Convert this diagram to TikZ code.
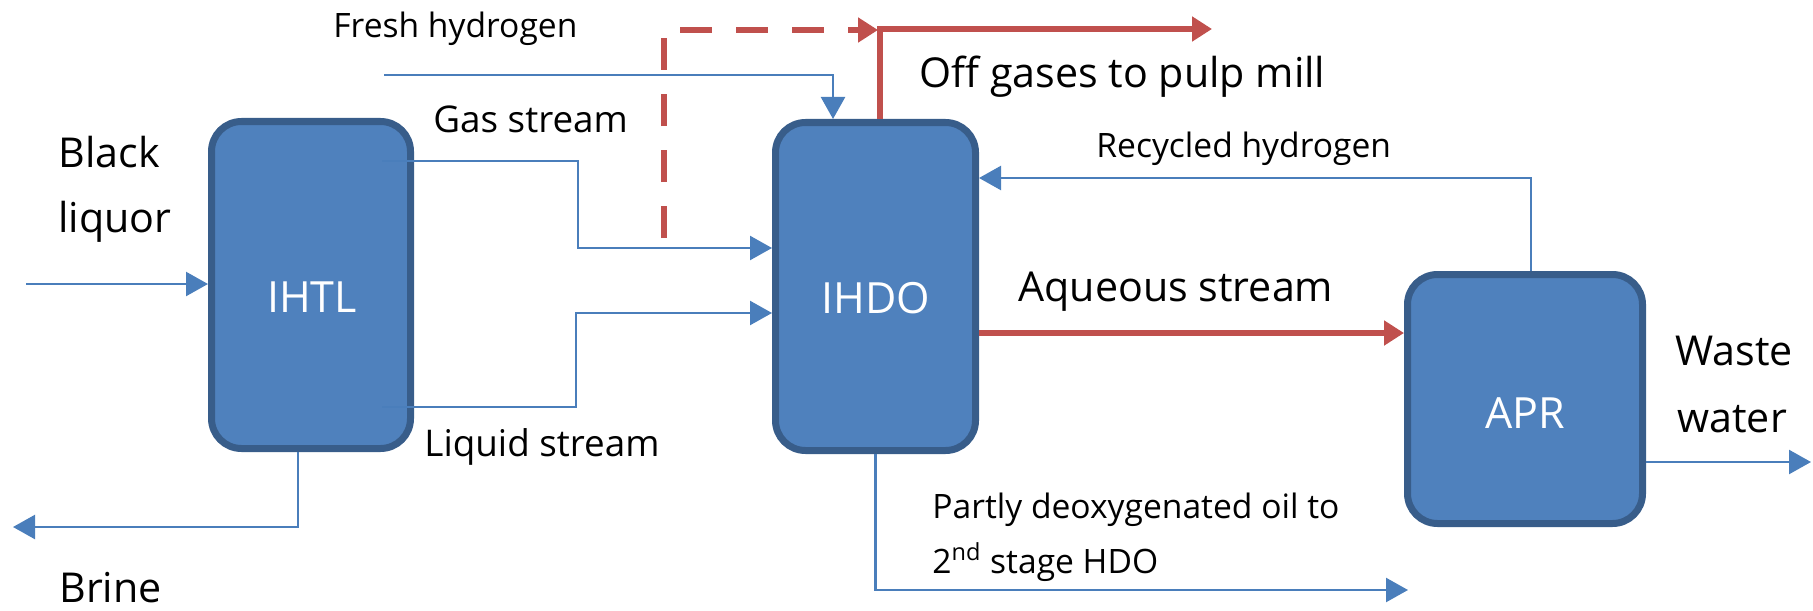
\documentclass[tikz,border=0pt]{standalone}
\usepackage{fontspec}
\setmainfont{Open Sans}
\usetikzlibrary{arrows.meta,calc}

\definecolor{boxfill}{HTML}{4F81BD}
\definecolor{boxline}{HTML}{385D8A}
\definecolor{flowblue}{HTML}{4A7EBB}
\definecolor{flowred}{HTML}{C0504D}

\tikzset{
  unit/.style={draw=boxline, fill=boxfill, line width=3.5pt, rounded corners=15pt, inner sep=0pt},
  unitlabel/.style={text=white, inner sep=0pt, font=\fontsize{21.5}{24}\selectfont},
  flow/.style={draw=flowblue, line width=1.2pt, -{Triangle[length=11pt,width=12pt]}},
  hotflow/.style={draw=flowred, line width=3.3pt, -{Triangle[length=10pt,width=12pt]}},
  hotdash/.style={hotflow, dash pattern=on 16pt off 12pt},
  lbl/.style={anchor=base west, inner sep=0pt, text=black},
  small/.style={lbl, font=\fontsize{16.8}{20}\selectfont},
  mid/.style={lbl, font=\fontsize{18.4}{22}\selectfont},
  big/.style={lbl, font=\fontsize{20.6}{24}\selectfont}
}

\begin{document}
\begin{tikzpicture}[x=0.5pt, y=-0.5pt]
  \useasboundingbox (0,0) rectangle (1813,610);

  % process units
  \node[unit, minimum width=99.5pt, minimum height=163.5pt] (ihtl) at (311,285) {};
  \node[unit, minimum width=100pt, minimum height=164pt] (ihdo) at (875.5,286.5) {};
  \node[unit, minimum width=117.5pt, minimum height=124.5pt] (apr) at (1525,399) {};
  \node[unitlabel] (ihtl-t) at (312,297) {IHTL};
  \node[unitlabel] (ihdo-t) at (876,298) {IHDO};
  \node[unitlabel] (apr-t) at (1525,413) {APR};

  % free ends of the streams
  \coordinate (feed) at (26,284);
  \coordinate (brineout) at (13,527);
  \coordinate (h2in) at (384,75);
  \coordinate (gasout) at (382,161);
  \coordinate (liqout) at (382,407);
  \coordinate (bypass) at (664,238);
  \coordinate (junction) at (878,30);
  \coordinate (offgas) at (1212,29);
  \coordinate (oilout) at (1408,590);
  \coordinate (wasteout) at (1811,462);

  % IHTL streams
  \draw[flow] (feed) -- (ihtl.west |- feed);
  \draw[flow] (298,0 |- ihtl.south) -- (298,527) -- (brineout);
  \draw[flow] (gasout) -- (578,161) |- (ihdo.west |- 0,248);
  \draw[flow] (liqout) -- (576,407) |- (ihdo.west |- 0,313);

  % hydrogen and gases around IHDO
  \draw[flow] (h2in) -| (833,0 |- ihdo.north);
  \draw[hotdash] (bypass) |- (junction);
  \draw[hotflow] (880,0 |- ihdo.north) -- (880,29) -- (offgas);
  \draw[flow] (1531,0 |- apr.north) |- (ihdo.east |- 0,178);
  \draw[hotflow] (ihdo.east |- 0,333) -- (apr.west |- 0,333);
  \draw[flow] (ihdo.south) |- (oilout);
  \draw[flow] (apr.east |- 0,462) -- (wasteout);

  % stream labels
  \node[small] (l-fresh) at (333,38) {Fresh hydrogen};
  \node[mid] (l-gas) at (433,133) {Gas stream};
  \node[mid] (l-liq) at (424,456) {Liquid stream};
  \node[big] (l-black) at (58,167) {Black};
  \node[big] (l-liquor) at (58,232) {liquor};
  \node[big] (l-brine) at (59,602) {Brine};
  \node[big] (l-off) at (919,88) {Off gases to pulp mill};
  \node[small] (l-recy) at (1096,157) {Recycled hydrogen};
  \node[big] (l-aq) at (1018,301) {Aqueous stream};
  \node[small] (l-oil1) at (932,518) {Partly deoxygenated oil to};
  \node[small] (l-oil2) at (932,573) {2\textsuperscript{nd} stage HDO};
  \node[big] (l-waste) at (1675,365) {Waste};
  \node[big] (l-water) at (1677,432) {water};
\end{tikzpicture}
\end{document}
